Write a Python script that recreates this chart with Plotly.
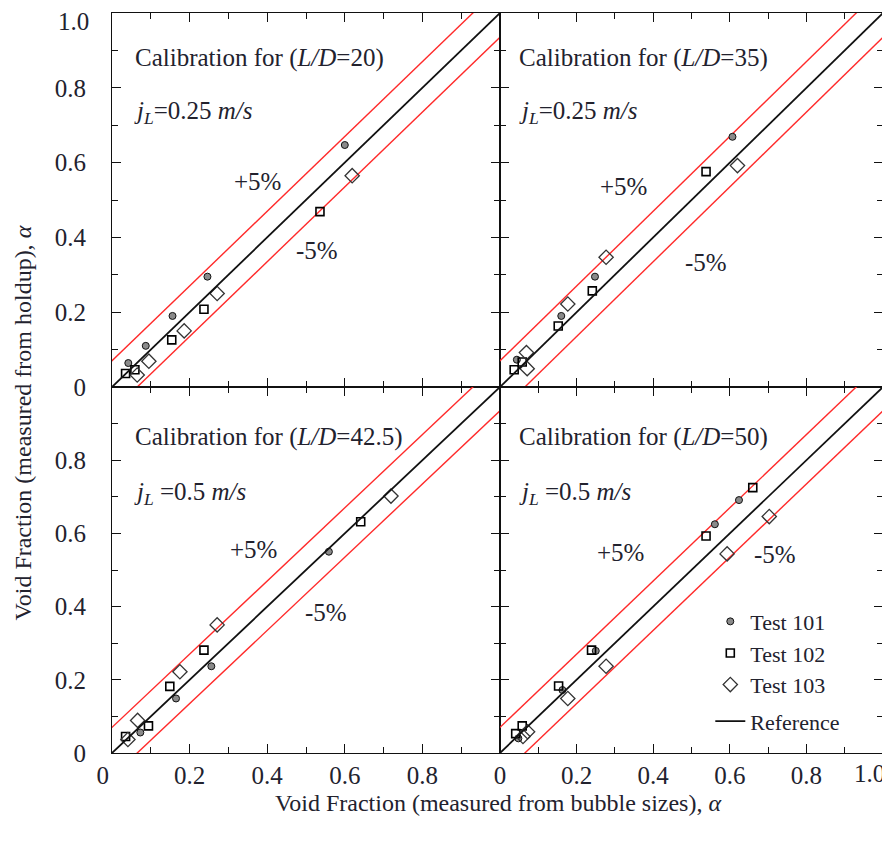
import plotly.graph_objects as go
from plotly.subplots import make_subplots

# ---------------- data ----------------
ld20_t101_x = [0.042, 0.087, 0.156, 0.246, 0.600]
ld20_t101_y = [0.064, 0.110, 0.190, 0.295, 0.647]
ld20_t102_x = [0.035, 0.059, 0.154, 0.237, 0.536]
ld20_t102_y = [0.036, 0.046, 0.126, 0.208, 0.469]
ld20_t103_x = [0.065, 0.095, 0.186, 0.271, 0.619]
ld20_t103_y = [0.032, 0.069, 0.150, 0.250, 0.565]

ld35_t101_x = [0.044, 0.160, 0.248, 0.607]
ld35_t101_y = [0.073, 0.190, 0.295, 0.669]
ld35_t102_x = [0.037, 0.058, 0.152, 0.241, 0.538]
ld35_t102_y = [0.046, 0.067, 0.163, 0.257, 0.576]
ld35_t103_x = [0.069, 0.071, 0.177, 0.277, 0.620]
ld35_t103_y = [0.092, 0.049, 0.222, 0.347, 0.592]

ld42_t101_x = [0.073, 0.165, 0.256, 0.559]
ld42_t101_y = [0.056, 0.149, 0.237, 0.550]
ld42_t102_x = [0.035, 0.094, 0.149, 0.237, 0.641]
ld42_t102_y = [0.045, 0.074, 0.182, 0.281, 0.632]
ld42_t103_x = [0.041, 0.066, 0.175, 0.271, 0.719]
ld42_t103_y = [0.037, 0.089, 0.222, 0.350, 0.702]

ld50_t101_x = [0.048, 0.163, 0.250, 0.561, 0.624]
ld50_t101_y = [0.040, 0.172, 0.279, 0.625, 0.691]
ld50_t102_x = [0.041, 0.058, 0.153, 0.239, 0.538, 0.660]
ld50_t102_y = [0.053, 0.074, 0.183, 0.281, 0.593, 0.725]
ld50_t103_x = [0.060, 0.072, 0.177, 0.277, 0.593, 0.703]
ld50_t103_y = [0.045, 0.058, 0.149, 0.237, 0.544, 0.646]

ref_x = [0.0, 1.0]
band_up = 0.07
band_dn = 0.065

panel_titles = ["Calibration for (<i>L/D</i>=20)", "Calibration for (<i>L/D</i>=35)",
                "Calibration for (<i>L/D</i>=42.5)", "Calibration for (<i>L/D</i>=50)"]
panel_jl = ["<i>j<sub>L</sub></i>=0.25 <i>m/s</i>", "<i>j<sub>L</sub></i>=0.25 <i>m/s</i>",
            "<i>j<sub>L</sub></i> =0.5 <i>m/s</i>", "<i>j<sub>L</sub></i> =0.5 <i>m/s</i>"]
tick_vals = [0, 0.2, 0.4, 0.6, 0.8, 1.0]
tick_labels = ["0", "0.2", "0.4", "0.6", "0.8", "1.0"]
minor_vals = [0.1, 0.3, 0.5, 0.7, 0.9]

series = [
    (ld20_t101_x, ld20_t101_y, ld20_t102_x, ld20_t102_y, ld20_t103_x, ld20_t103_y),
    (ld35_t101_x, ld35_t101_y, ld35_t102_x, ld35_t102_y, ld35_t103_x, ld35_t103_y),
    (ld42_t101_x, ld42_t101_y, ld42_t102_x, ld42_t102_y, ld42_t103_x, ld42_t103_y),
    (ld50_t101_x, ld50_t101_y, ld50_t102_x, ld50_t102_y, ld50_t103_x, ld50_t103_y),
]

FONT = "Liberation Serif"
TXT = "#22222e"
FS = 25
NB = "\u00a0"

fig = make_subplots(rows=2, cols=2, horizontal_spacing=0, vertical_spacing=0,
                    column_widths=[388, 383], row_heights=[374, 366])

positions = [(1, 1), (1, 2), (2, 1), (2, 2)]
for k, (r, c) in enumerate(positions):
    x1, y1, x2, y2, x3, y3 = series[k]
    show = (k == 0)
    ext_x = [ref_x[0] - 0.2, ref_x[1] + 0.2]
    fig.add_trace(go.Scatter(x=ext_x, y=[v + band_up for v in ext_x], mode="lines",
                             line=dict(color="#ff2a2a", width=1.4), showlegend=False,
                             hoverinfo="skip"), row=r, col=c)
    fig.add_trace(go.Scatter(x=ext_x, y=[v - band_dn for v in ext_x], mode="lines",
                             line=dict(color="#ff2a2a", width=1.4), showlegend=False,
                             hoverinfo="skip"), row=r, col=c)
    fig.add_trace(go.Scatter(x=x1, y=y1, mode="markers", name="Test 101", legendgroup="m",
                             showlegend=show,
                             marker=dict(symbol="circle", size=7, color="#8a8a8a",
                                         line=dict(color="#111", width=1))), row=r, col=c)
    fig.add_trace(go.Scatter(x=x2, y=y2, mode="markers", name="Test 102", legendgroup="m",
                             showlegend=show,
                             marker=dict(symbol="square-open", size=8, color="#000",
                                         line=dict(color="#000", width=1.6))), row=r, col=c)
    fig.add_trace(go.Scatter(x=x3, y=y3, mode="markers", name="Test 103", legendgroup="m",
                             showlegend=show,
                             marker=dict(symbol="diamond-open", size=11, color="#333",
                                         line=dict(color="#333", width=1.3))), row=r, col=c)
    fig.add_trace(go.Scatter(x=ref_x, y=ref_x, mode="lines", name="Reference", legendgroup="r",
                             showlegend=show, line=dict(color="#111", width=1.8)), row=r, col=c)

    ax = "" if k == 0 else str(k + 1)
    fig.add_annotation(x=0.055 if c == 1 else 0.045, y=0.88 if r == 1 else 0.863,
                       xref="x" + ax, yref="y" + ax, text=panel_titles[k], showarrow=False,
                       xanchor="left", yanchor="middle", font=dict(size=FS, family=FONT, color=TXT))
    fig.add_annotation(x=0.052 if c == 1 else 0.045, y=0.733 if r == 1 else 0.71,
                       xref="x" + ax, yref="y" + ax, text=panel_jl[k], showarrow=False,
                       xanchor="left", yanchor="middle", font=dict(size=FS, family=FONT, color=TXT))

plus_pos = [(0.31, 0.55), (0.256, 0.535), (0.30, 0.555), (0.248, 0.549)]
minus_pos = [(0.47, 0.366), (0.478, 0.334), (0.492, 0.385), (0.658, 0.541)]
for k in range(4):
    ax = "" if k == 0 else str(k + 1)
    fig.add_annotation(x=plus_pos[k][0], y=plus_pos[k][1], xref="x" + ax, yref="y" + ax,
                       text="+5%", showarrow=False, xanchor="left", yanchor="middle",
                       font=dict(size=FS, family=FONT, color=TXT))
    fig.add_annotation(x=minus_pos[k][0], y=minus_pos[k][1], xref="x" + ax, yref="y" + ax,
                       text="-5%", showarrow=False, xanchor="left", yanchor="middle",
                       font=dict(size=FS, family=FONT, color=TXT))

axis_common = dict(range=[0, 1], tickvals=tick_vals[:5], ticks="inside", ticklen=9, tickwidth=1.2,
                   tickcolor="#111", showline=True, linecolor="#111", linewidth=1,
                   mirror="ticks", showgrid=False, zeroline=False, automargin=False,
                   ticklabeloverflow="allow",
                   tickfont=dict(size=FS, family=FONT, color=TXT),
                   minor=dict(tickvals=minor_vals, ticks="inside", ticklen=6,
                              tickcolor="#111", tickwidth=1, showgrid=False))

# tick label texts (the 1.0 labels at the outer corners are placed separately below)
x_left = [tick_labels[0] + NB * 3] + tick_labels[1:5]
x_right = tick_labels[:5]
y_labels = tick_labels[:5]

for k, (r, c) in enumerate(positions):
    xt = x_right if c == 2 else x_left
    fig.update_xaxes(axis_common, row=r, col=c, ticktext=xt, showticklabels=(r == 2),
                     ticklabelstandoff=0)
    fig.update_yaxes(axis_common, row=r, col=c, ticktext=y_labels, showticklabels=(c == 1),
                     ticklabelstandoff=20)

# outer-corner 1.0 labels, kept inside the page
fig.add_annotation(x=tick_vals[-1], y=0, xref="x4", yref="y4", text=tick_labels[-1],
                   showarrow=False, xanchor="right", yanchor="top", xshift=4, yshift=-5,
                   font=dict(size=FS, family=FONT, color=TXT))
fig.add_annotation(x=0, y=tick_vals[-1], xref="x", yref="y", text=tick_labels[-1],
                   showarrow=False, xanchor="right", yanchor="middle", xshift=-21, yshift=-8,
                   font=dict(size=FS, family=FONT, color=TXT))

fig.add_annotation(x=-0.116, y=0.446, xref="paper", yref="paper",
                   text="Void Fraction (measured from holdup), <i>α</i>", textangle=-90,
                   showarrow=False, xanchor="center", yanchor="middle",
                   font=dict(size=24, family=FONT, color=TXT))
fig.add_annotation(x=0.5, y=-0.068, xref="paper", yref="paper",
                   text="Void Fraction (measured from bubble sizes), <i>α</i>",
                   showarrow=False, xanchor="center", yanchor="middle",
                   font=dict(size=24, family=FONT, color=TXT))

# the page body adds an 8 px offset, so the figure is drawn 8 px smaller with shifted margins
fig.update_layout(
    width=882, height=836,
    margin=dict(l=104, r=7, t=5, b=91, autoexpand=False),
    paper_bgcolor="white", plot_bgcolor="white",
    legend=dict(x=0.776, y=0.206, xanchor="left", yanchor="top",
                font=dict(size=22, family=FONT, color=TXT),
                bgcolor="rgba(0,0,0,0)", tracegroupgap=5, itemwidth=30),
)

fig.write_html("out.html")
